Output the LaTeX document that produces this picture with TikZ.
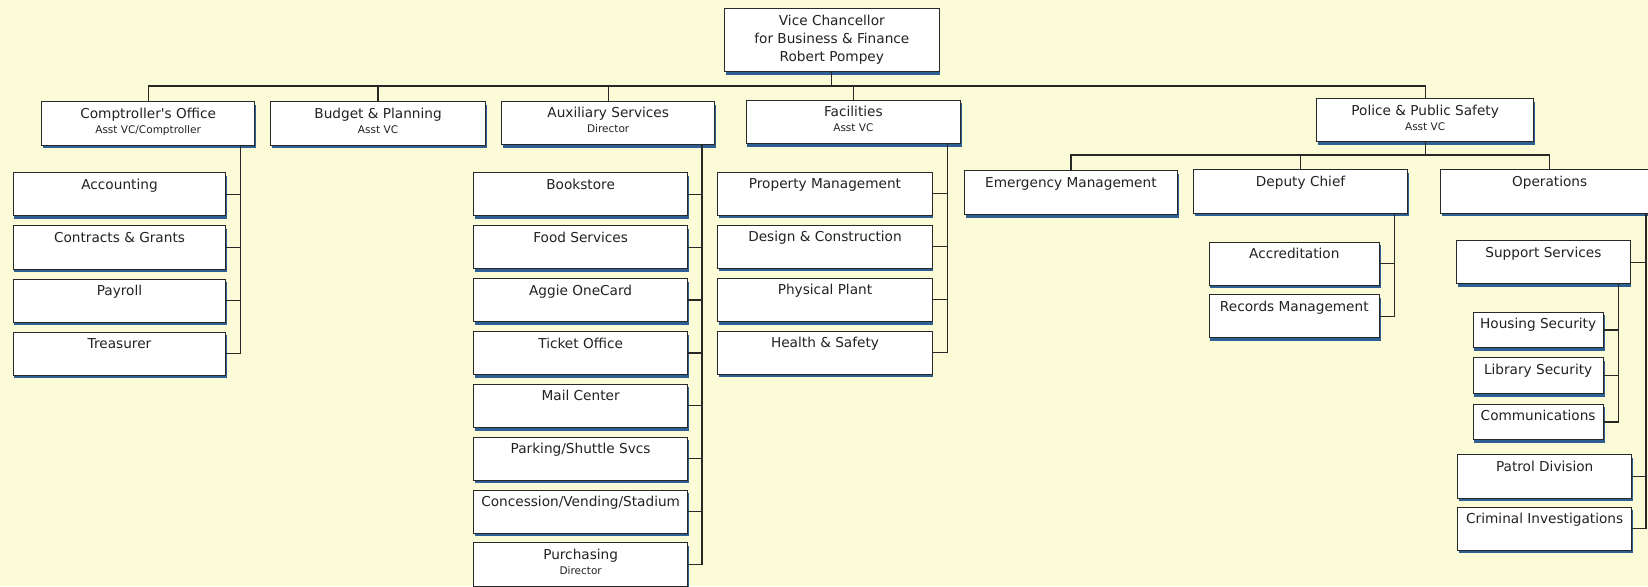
\documentclass[tikz,border=0pt]{standalone}
\usepackage{fontspec}
\setmainfont{DejaVu Sans}
\usetikzlibrary{shadows}
\definecolor{paper}{RGB}{251,251,215}
\definecolor{ink}{RGB}{34,34,34}
\definecolor{edge}{RGB}{40,40,40}
\definecolor{shadeblue}{RGB}{46,96,150}
% fixed-size box body: width, height, text (first baseline 15.75pt below the top)
\newcommand\boxcontent[3]{\parbox[c][#2pt][t]{#1pt}{\centering\rule{0pt}{15.75pt}#3}}
\newcommand\subline[1]{\par\fontsize{10}{14.25}\selectfont #1}
\tikzset{
  unit/.style={draw=edge, line width=0.9pt, fill=white, inner sep=0pt, anchor=north west, text=ink,
    drop shadow={shadow xshift=1.2pt, shadow yshift=-3pt, fill=shadeblue, opacity=1}},
  wire/.style={draw=edge, line width=1.2pt},
}
\begin{document}
\begin{tikzpicture}[x=1pt, y=-1pt, font=\fontsize{13}{17}\selectfont]
\fill[paper] (0,0) rectangle (1568,558);
\useasboundingbox (0,0) rectangle (1568,558);

% top
\node[unit] (vc) at (689,8) {\boxcontent{204}{60}{Vice Chancellor\\for Business \& Finance\\Robert Pompey}};

% first level
\node[unit] (comp)   at (39,96.5)   {\boxcontent{203}{41}{Comptroller\textquotesingle s Office\subline{Asst VC/Comptroller}}};
\node[unit] (budget) at (257,96.5)  {\boxcontent{204.5}{41}{Budget \& Planning\subline{Asst VC}}};
\node[unit] (aux)    at (476.7,96)  {\boxcontent{203}{41}{Auxiliary Services\subline{Director}}};
\node[unit] (fac)    at (709.5,95)  {\boxcontent{204}{41}{Facilities\subline{Asst VC}}};
\node[unit] (police) at (1252,93.6) {\boxcontent{207}{41}{Police \& Public Safety\subline{Asst VC}}};

% comptroller's office
\node[unit] (acc)   at (12,164)   {\boxcontent{202.5}{41}{Accounting}};
\node[unit] (cg)    at (12,214.5) {\boxcontent{202.5}{41}{Contracts \& Grants}};
\node[unit] (pay)   at (12,265)   {\boxcontent{202.5}{41}{Payroll}};
\node[unit] (treas) at (12,315.5) {\boxcontent{202.5}{41}{Treasurer}};

% auxiliary services
\node[unit] (book)  at (450,164)   {\boxcontent{204}{41}{Bookstore}};
\node[unit] (food)  at (450,214.3) {\boxcontent{204}{41}{Food Services}};
\node[unit] (card)  at (450,264.6) {\boxcontent{204}{41}{Aggie OneCard}};
\node[unit] (tick)  at (450,314.9) {\boxcontent{204}{41}{Ticket Office}};
\node[unit] (mail)  at (450,365.2) {\boxcontent{204}{41}{Mail Center}};
\node[unit] (park)  at (450,415.5) {\boxcontent{204}{41}{Parking/Shuttle Svcs}};
\node[unit] (conc)  at (450,465.8) {\boxcontent{204}{41}{Concession/Vending/Stadium}};
\node[unit] (purch) at (450,516.1) {\boxcontent{204}{41}{Purchasing\subline{Director}}};

% facilities
\node[unit] (prop)   at (682.5,163.3) {\boxcontent{204}{41}{Property Management}};
\node[unit] (design) at (682.5,213.8) {\boxcontent{204}{41}{Design \& Construction}};
\node[unit] (plant)  at (682.5,264.3) {\boxcontent{204}{41}{Physical Plant}};
\node[unit] (health) at (682.5,314.5) {\boxcontent{204}{41}{Health \& Safety}};

% police & public safety
\node[unit] (em)  at (917,162)    {\boxcontent{203}{42}{Emergency Management}};
\node[unit] (dep) at (1135,161)   {\boxcontent{204}{41.5}{Deputy Chief}};
\node[unit] (ops) at (1370,160.8) {\boxcontent{208}{41.5}{Operations}};

\node[unit] (accr) at (1150,230) {\boxcontent{162}{41}{Accreditation}};
\node[unit] (rec)  at (1150,280) {\boxcontent{162}{41}{Records Management}};

\node[unit] (supp)   at (1385.5,228.5) {\boxcontent{165}{41}{Support Services}};
\node[unit] (house)  at (1401,296.5)   {\boxcontent{124}{34}{Housing Security}};
\node[unit] (lib)    at (1401,340)     {\boxcontent{124}{34}{Library Security}};
\node[unit] (comm)   at (1401,384)     {\boxcontent{124}{34}{Communications}};
\node[unit] (patrol) at (1386.5,432)   {\boxcontent{165.5}{41.5}{Patrol Division}};
\node[unit] (crim)   at (1386.5,482)   {\boxcontent{165.5}{41}{Criminal Investigations}};

% connector rails
\coordinate (bus)  at (0,81.8);
\coordinate (pbus) at (0,147.5);
\coordinate (compspine) at (229,0);
\coordinate (auxspine)  at (668,0);
\coordinate (facspine)  at (901.4,0);
\coordinate (depspine)  at (1327,0);
\coordinate (opsspine)  at (1566,0);
\coordinate (suppspine) at (1540,0);

\foreach \c in {comp,budget,aux,fac,police}
  \draw[wire] (vc.south) -- (vc.south |- bus) -| (\c.north);
\foreach \c in {em,dep,ops}
  \draw[wire] (police.south) -- (police.south |- pbus) -| (\c.north);

\foreach \c in {acc,cg,pay,treas}
  \draw[wire] (comp.south -| compspine) |- (\c.east);
\foreach \c in {book,food,card,tick,mail,park,conc,purch}
  \draw[wire] (aux.south -| auxspine) |- (\c.east);
\foreach \c in {prop,design,plant,health}
  \draw[wire] (fac.south -| facspine) |- (\c.east);
\foreach \c in {accr,rec}
  \draw[wire] (dep.south -| depspine) |- (\c.east);
\foreach \c in {supp,patrol,crim}
  \draw[wire] (ops.south -| opsspine) |- (\c.east);
\foreach \c in {house,lib,comm}
  \draw[wire] (supp.south -| suppspine) |- (\c.east);
\end{tikzpicture}
\end{document}
